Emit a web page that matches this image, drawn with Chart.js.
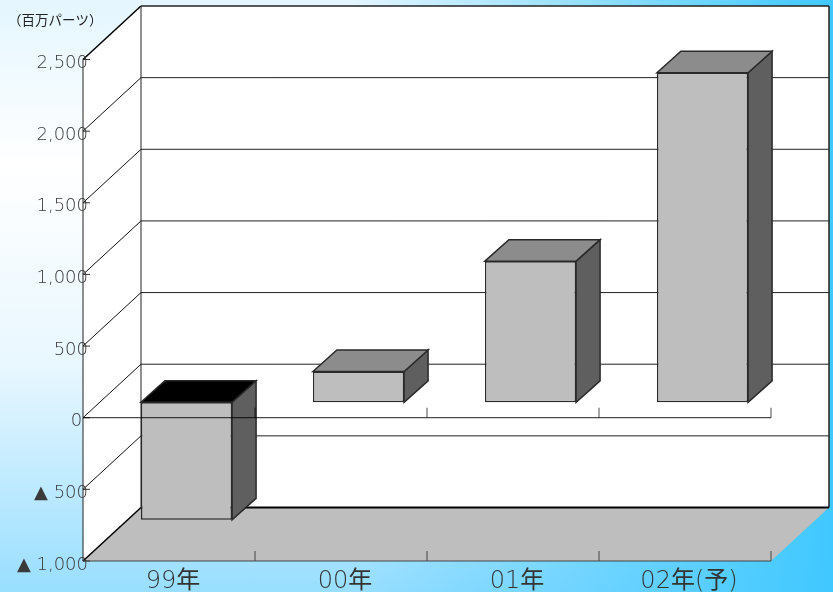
<!DOCTYPE html>
<html lang="ja">
<head>
<meta charset="utf-8">
<title>百万パーツ</title>
<script src="https://cdn.jsdelivr.net/npm/chart.js@4"></script>
<style>
  html, body { margin: 0; padding: 0; }
  body {
    width: 833px;
    height: 592px;
    overflow: hidden;
    background:
      linear-gradient(to right, rgba(64, 200, 255, 0) 42%, rgba(64, 200, 255, 1) 100%),
      linear-gradient(to bottom, #e4f6ff 0, #ffffff 28%, #e8f7ff 62%, #98deff 100%);
  }
  canvas { display: block; }
</style>
</head>
<body>
<canvas id="partsChart" width="833" height="592"></canvas>
<script>
const categories = ["99年", "00年", "01年", "02年(予)"];
const parts = [-820, 215, 985, 2300];
const yTickLabels = ["▲ 1,000", "▲ 500", "0 ", "500", "1,000", "1,500", "2,000", "2,500"];
const unitLabel = "（百万パーツ）";

const FONT = '"DejaVu Sans Light", "DejaVu Sans", "Noto Sans CJK JP", sans-serif';

// depth of the box the chart sits in, and where the bars sit inside that depth
const box = { dx: 58, dy: -53.5 };
const barFront = { dx: 17.5, dy: -15.4 };
const barDepth = { dx: 24, dy: -21.5 };

function poly(ctx, pts, fill, stroke, width) {
  ctx.beginPath();
  pts.forEach((p, i) => (i ? ctx.lineTo(p[0], p[1]) : ctx.moveTo(p[0], p[1])));
  ctx.closePath();
  if (fill) {
    ctx.fillStyle = fill;
    ctx.fill();
  }
  if (stroke) {
    ctx.strokeStyle = stroke;
    ctx.lineWidth = width || 1;
    ctx.stroke();
  }
}

function line(ctx, x1, y1, x2, y2, color, width) {
  ctx.beginPath();
  ctx.moveTo(x1, y1);
  ctx.lineTo(x2, y2);
  ctx.strokeStyle = color;
  ctx.lineWidth = width || 1;
  ctx.stroke();
}

// walls, floor and grid behind everything
const boxPlugin = {
  id: "box",
  beforeDraw(chart) {
    const { ctx, scales: { x, y } } = chart;
    const { left, right, top, bottom } = chart.chartArea;
    const bx = left + box.dx;
    const bxr = right + box.dx;
    const by = top + box.dy;
    const byb = bottom + box.dy;

    ctx.save();
    poly(ctx, [[left, top], [bx, by], [bx, byb], [left, bottom]], "#fff");
    poly(ctx, [[bx, by], [bxr, by], [bxr, byb], [bx, byb]], "#fff");
    poly(ctx, [[left, bottom], [bx, byb], [bxr, byb], [right, bottom]], "#bebebe");

    y.ticks.forEach((t) => {
      const py = y.getPixelForValue(t.value);
      if (t.value > y.min && t.value < y.max) {
        line(ctx, left, py, bx, py + box.dy, "#111");
        line(ctx, bx, py + box.dy, bxr, py + box.dy, "#222");
      }
      line(ctx, left, py, left + 7, py, "#333");
    });

    line(ctx, left, top, bx, by, "#000", 1.5);
    line(ctx, bx, by, bxr, by, "#222", 1.5);
    line(ctx, bxr, by, bxr, byb, "#222", 1.5);
    line(ctx, bx, by, bx, byb, "#222", 1);
    line(ctx, left, bottom, bx, byb, "#000", 1.5);
    line(ctx, bx, byb, bxr, byb, "#000", 2);
    line(ctx, left, top, left, bottom, "#222", 1);

    // floor edge with category ticks
    line(ctx, left, bottom, right, bottom, "#444", 1.2);
    categories.forEach((c, i) => {
      const tx = x.getPixelForValue(i) + x.width / categories.length / 2;
      line(ctx, tx, bottom, tx, bottom - 10, "#444", 1);
    });

    ctx.fillStyle = "#222";
    ctx.font = '13.5px "Noto Sans CJK JP", sans-serif';
    ctx.textBaseline = "middle";
    ctx.fillText(unitLabel, 8, 20);
    ctx.restore();
  },
  // side and top faces go down first, the library then paints the front face shifted into the box
  beforeDatasetDraw(chart, args) {
    const { ctx } = chart;
    ctx.save();
    ctx.translate(barFront.dx, barFront.dy);
    args.meta.data.forEach((bar, i) => {
      const l = bar.x - bar.width / 2;
      const r = bar.x + bar.width / 2;
      const t = Math.min(bar.y, bar.base);
      const b = Math.max(bar.y, bar.base);
      const { dx, dy } = barDepth;
      poly(ctx, [[r, t], [r + dx, t + dy], [r + dx, b + dy], [r, b]], "#5f5f5f", "#2a2a2a", 1.5);
      poly(ctx, [[l, t], [l + dx, t + dy], [r + dx, t + dy], [r, t]],
        parts[i] < 0 ? "#000" : "#8c8c8c", "#2a2a2a", 1.5);
    });
  },
  afterDatasetDraw(chart) {
    chart.ctx.restore();
  },
  // zero line runs in front of the bars
  afterDatasetsDraw(chart) {
    const { ctx, scales: { x, y } } = chart;
    const { left, right } = chart.chartArea;
    const zero = y.getPixelForValue(0);
    ctx.save();
    line(ctx, left, zero, right, zero, "rgba(0,0,0,0.7)", 1.2);
    categories.forEach((c, i) => {
      const tx = x.getPixelForValue(i) + x.width / categories.length / 2;
      line(ctx, tx, zero, tx, zero - 10, "rgba(0,0,0,0.7)", 1);
    });
    ctx.restore();
  },
};

new Chart(document.getElementById("partsChart"), {
  type: "bar",
  data: {
    labels: categories,
    datasets: [
      {
        data: parts,
        backgroundColor: "#bebebe",
        borderColor: "#2a2a2a",
        borderWidth: 1.5,
        borderSkipped: false,
        barPercentage: 0.53,
        categoryPercentage: 1,
        clip: false,
      },
    ],
  },
  options: {
    responsive: false,
    animation: false,
    layout: { padding: { top: 59.5, right: 62, left: 0, bottom: 0 } },
    plugins: { legend: { display: false }, tooltip: { enabled: false } },
    scales: {
      x: {
        grid: { display: false, drawTicks: false },
        border: { display: false },
        ticks: {
          color: "#333",
          padding: 6,
          labelOffset: 4,
          maxRotation: 0,
          autoSkip: false,
          font: { family: FONT, size: 24 },
        },
        afterFit(scale) {
          scale.height = 31;
        },
      },
      y: {
        min: -1000,
        max: 2500,
        grid: { display: false, drawTicks: false },
        border: { display: false },
        ticks: {
          stepSize: 500,
          color: "#3a3a3a",
          padding: -5,
          labelOffset: 4,
          font: { family: FONT, size: 18 },
          callback: (value, i) => yTickLabels[i],
        },
        afterFit(scale) {
          scale.width = 83;
          // labels run slightly over the axis line, so no clipping to the scale box
          scale._computeLabelArea = () => null;
        },
      },
    },
  },
  plugins: [boxPlugin],
});
</script>
</body>
</html>
